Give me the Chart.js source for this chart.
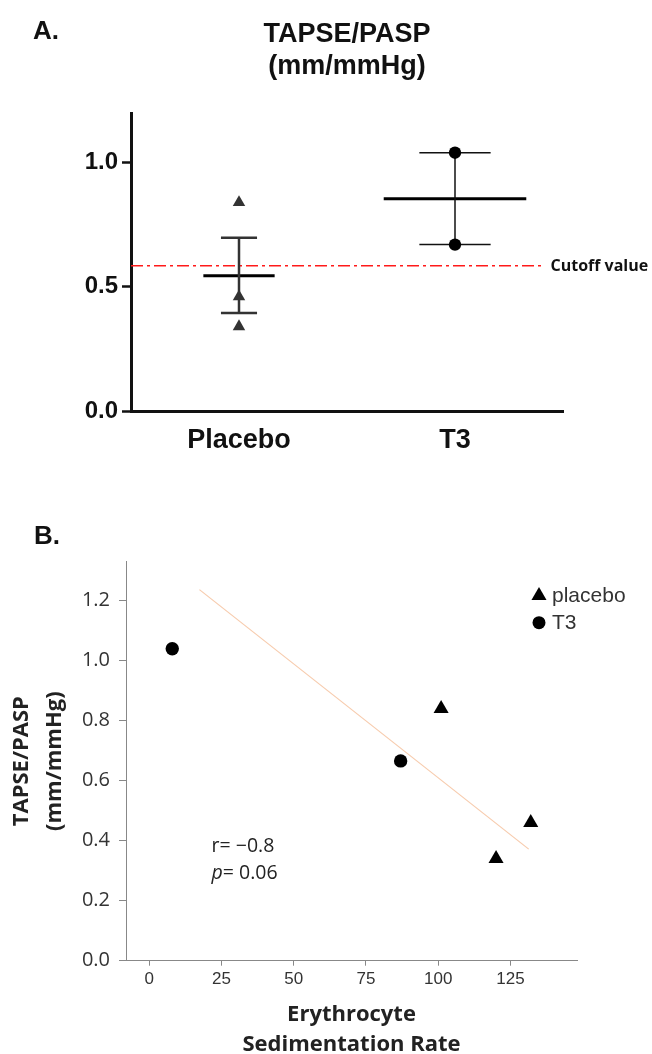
<!DOCTYPE html>
<html lang="en">
<head>
<meta charset="UTF-8">
<title>TAPSE/PASP</title>
<script src="https://cdn.jsdelivr.net/npm/chart.js"></script>
<style>
  html, body { margin: 0; padding: 0; background: #fff; overflow: hidden; }
  .panel { position: absolute; left: 0; width: 652px; }
  #panelA { top: 0; height: 480px; }
  #panelB { top: 480px; height: 590px; }
  .tag { position: absolute; font: bold 26px "Liberation Sans", Arial, sans-serif; line-height: 30px; color: #111; z-index: 2; }
</style>
</head>
<body>
<div id="panelA" class="panel"><canvas id="chartA"></canvas></div>
<div id="panelB" class="panel"><canvas id="chartB"></canvas></div>
<div class="tag" style="left:33px; top:15px;">A.</div>
<div class="tag" style="left:34px; top:520px;">B.</div>

<script>
// ---- panel A data ----
const groups = ['Placebo', 'T3'];
const groupPos = [1, 3];
const placeboValues = [0.84, 0.46, 0.34];
const t3Values = [1.04, 0.67];
const groupMean = [0.545, 0.855];
const groupUpper = [0.698, 1.04];
const groupLower = [0.395, 0.67];
const cutoffValue = 0.585;
const yTicksA = [0, 0.5, 1.0];

// ---- panel B data ----
const placeboESR = [101, 132, 120];
const placeboRatio = [0.84, 0.46, 0.34];
const t3ESR = [8, 87];
const t3Ratio = [1.04, 0.666];
const fitX = [17.4, 131.3];
const fitY = [1.237, 0.372];
const xTicksB = [0, 25, 50, 75, 100, 125];
const yTicksB = [0, 0.2, 0.4, 0.6, 0.8, 1.0, 1.2];
const statLabels = ['r= \u22120.8', '= 0.06'];

// styling bits (kept apart from the data)
const meanHalf = [0.33, 0.66];
const capHalf = [0.167, 0.33];
const barColor = ['#333', '#111'];
const barWidth = [2.5, 1.5];
const cutoffEnd = 3.81;

Chart.defaults.animation = false;
Chart.defaults.plugins.legend.display = false;
Chart.defaults.plugins.tooltip.enabled = false;

function seg(x1, y1, x2, y2, color, width, extra) {
    return Object.assign({
        type: 'line',
        data: [{x: x1, y: y1}, {x: x2, y: y2}],
        borderColor: color,
        borderWidth: width,
        pointRadius: 0,
        fill: false
    }, extra || {});
}

// ---------------- Panel A ----------------
const dsA = [];
dsA.push({
    type: 'scatter',
    data: placeboValues.map(v => ({x: groupPos[0], y: v})),
    pointStyle: 'triangle', pointRadius: 7.2, backgroundColor: '#333', borderWidth: 0
});
dsA.push({
    type: 'scatter',
    data: t3Values.map(v => ({x: groupPos[1], y: v})),
    pointStyle: 'circle', pointRadius: 6.2, backgroundColor: '#000', borderWidth: 0
});
groups.forEach((g, i) => {
    const p = groupPos[i];
    dsA.push(seg(p, groupLower[i], p, groupUpper[i], barColor[i], barWidth[i]));
    dsA.push(seg(p - capHalf[i], groupUpper[i], p + capHalf[i], groupUpper[i], barColor[i], barWidth[i]));
    dsA.push(seg(p - capHalf[i], groupLower[i], p + capHalf[i], groupLower[i], barColor[i], barWidth[i]));
    dsA.push(seg(p - meanHalf[i], groupMean[i], p + meanHalf[i], groupMean[i], '#000', 3));
});
dsA.push(seg(0, cutoffValue, cutoffEnd, cutoffValue, '#ff1a1a', 1.6, {borderDash: [12, 4, 3, 4]}));

const cutoffLabel = {
    id: 'cutoffLabel',
    afterDatasetsDraw(chart) {
        const ctx = chart.ctx;
        const x = chart.scales.x.getPixelForValue(cutoffEnd) + 8;
        const y = chart.scales.y.getPixelForValue(cutoffValue);
        ctx.save();
        ctx.font = 'bold 16px "Open Sans", sans-serif';
        ctx.fillStyle = '#111';
        ctx.textBaseline = 'middle';
        ctx.fillText('Cutoff value', x, y + 1);
        ctx.restore();
    }
};

new Chart(document.getElementById('chartA'), {
    type: 'scatter',
    data: {datasets: dsA},
    plugins: [cutoffLabel],
    options: {
        responsive: true,
        maintainAspectRatio: false,
        layout: {padding: {top: 0, right: 89, bottom: 0, left: 0}},
        plugins: {
            title: {
                display: true,
                text: ['TAPSE/PASP', '(mm/mmHg)'],
                fullSize: false,
                color: '#111',
                font: {family: '"Liberation Sans", Arial, sans-serif', size: 27, weight: 'bold', lineHeight: '32px'},
                padding: {top: 19, bottom: 30}
            }
        },
        scales: {
            x: {
                type: 'linear', min: 0, max: 4,
                afterBuildTicks: s => { s.ticks = groupPos.map(v => ({value: v})); },
                afterFit: s => { s.height = 69; },
                ticks: {
                    callback: v => groups[groupPos.indexOf(v)],
                    color: '#111',
                    font: {family: '"Liberation Sans", Arial, sans-serif', size: 27, weight: 'bold'},
                    padding: 13,
                    maxRotation: 0
                },
                grid: {display: false, drawTicks: false},
                border: {display: true, width: 3, color: '#111'}
            },
            y: {
                min: 0, max: 1.2,
                afterBuildTicks: s => { s.ticks = yTicksA.map(v => ({value: v})); },
                afterFit: s => { s.width = 131; },
                ticks: {
                    callback: v => v.toFixed(1),
                    color: '#111',
                    font: {family: '"Liberation Sans", Arial, sans-serif', size: 24, weight: 'bold'},
                    padding: 4
                },
                grid: {drawOnChartArea: false, tickLength: 9, tickWidth: 2.5, tickColor: '#111'},
                border: {display: true, width: 3, color: '#111'}
            }
        }
    }
});

// ---------------- Panel B ----------------
const legendB = {
    id: 'legendB',
    afterDatasetsDraw(chart) {
        const ctx = chart.ctx;
        const area = chart.chartArea;
        const mx = area.right - 38;
        const y1 = area.top + 34;
        const y2 = y1 + 27;
        ctx.save();
        ctx.fillStyle = '#000';
        // triangle marker
        const r = 8.7;
        ctx.beginPath();
        ctx.moveTo(mx, y1 - r);
        ctx.lineTo(mx + r * Math.sin(Math.PI / 3), y1 + r / 2);
        ctx.lineTo(mx - r * Math.sin(Math.PI / 3), y1 + r / 2);
        ctx.closePath();
        ctx.fill();
        // circle marker
        ctx.beginPath();
        ctx.arc(mx, y2, 6.5, 0, Math.PI * 2);
        ctx.fill();
        ctx.font = '21px "Liberation Sans", Arial, sans-serif';
        ctx.fillStyle = '#333';
        ctx.textBaseline = 'middle';
        ctx.fillText('placebo', mx + 13, y1 + 1);
        ctx.fillText('T3', mx + 13, y2 + 1);

        // r / p annotation
        const sx = chart.scales.x.getPixelForValue(21.6);
        const sy1 = chart.scales.y.getPixelForValue(0.38);
        const sy2 = chart.scales.y.getPixelForValue(0.291);
        ctx.fillStyle = '#222';
        ctx.font = '19.5px "Open Sans", sans-serif';
        ctx.fillText(statLabels[0], sx, sy1);
        ctx.font = 'italic 19.5px "Open Sans", sans-serif';
        ctx.fillText('p', sx, sy2);
        const pw = ctx.measureText('p').width;
        ctx.font = '19.5px "Open Sans", sans-serif';
        ctx.fillText(statLabels[1], sx + pw, sy2);
        ctx.restore();
    }
};

new Chart(document.getElementById('chartB'), {
    type: 'scatter',
    data: {
        datasets: [
            {
                label: 'placebo',
                data: placeboESR.map((x, i) => ({x: x, y: placeboRatio[i]})),
                pointStyle: 'triangle', pointRadius: 8.7, backgroundColor: '#000', borderWidth: 0
            },
            {
                label: 'T3',
                data: t3ESR.map((x, i) => ({x: x, y: t3Ratio[i]})),
                pointStyle: 'circle', pointRadius: 6.7, backgroundColor: '#000', borderWidth: 0
            },
            {
                label: 'fit',
                data: fitX.map((x, i) => ({x: x, y: fitY[i]})),
                showLine: true, borderColor: '#f7cbad', borderWidth: 1.2, pointRadius: 0
            }
        ]
    },
    plugins: [legendB],
    options: {
        responsive: true,
        maintainAspectRatio: false,
        layout: {padding: {top: 81.7, right: 75, bottom: 0, left: 0}},
        scales: {
            x: {
                min: -8, max: 148,
                afterBuildTicks: s => { s.ticks = xTicksB.map(v => ({value: v})); },
                afterFit: s => { s.height = 109.3; },
                ticks: {
                    color: '#333',
                    font: {family: '"Liberation Sans", Arial, sans-serif', size: 17},
                    padding: 3,
                    maxRotation: 0
                },
                grid: {drawOnChartArea: false, tickLength: 5, tickWidth: 1, tickColor: '#888'},
                border: {display: true, width: 1, color: '#888'},
                title: {
                    display: true,
                    text: ['Erythrocyte', 'Sedimentation Rate'],
                    color: '#222',
                    font: {family: '"Open Sans", sans-serif', size: 22, weight: 'bold', lineHeight: '30px'},
                    padding: {top: 0, bottom: 10}
                }
            },
            y: {
                min: 0, max: 1.33,
                afterBuildTicks: s => { s.ticks = yTicksB.map(v => ({value: v})); },
                afterFit: s => { s.width = 126; },
                ticks: {
                    callback: v => v.toFixed(1),
                    color: '#333',
                    font: {family: '"Open Sans", sans-serif', size: 20},
                    padding: 9
                },
                grid: {drawOnChartArea: false, tickLength: 7, tickWidth: 1, tickColor: '#888'},
                border: {display: true, width: 1, color: '#888'},
                title: {
                    display: true,
                    text: ['TAPSE/PASP', '(mm/mmHg)'],
                    color: '#222',
                    font: {family: '"Open Sans", sans-serif', size: 22, weight: 'bold', lineHeight: '33px'},
                    padding: {top: 5.5, bottom: 0}
                }
            }
        }
    }
});
</script>
</body>
</html>
